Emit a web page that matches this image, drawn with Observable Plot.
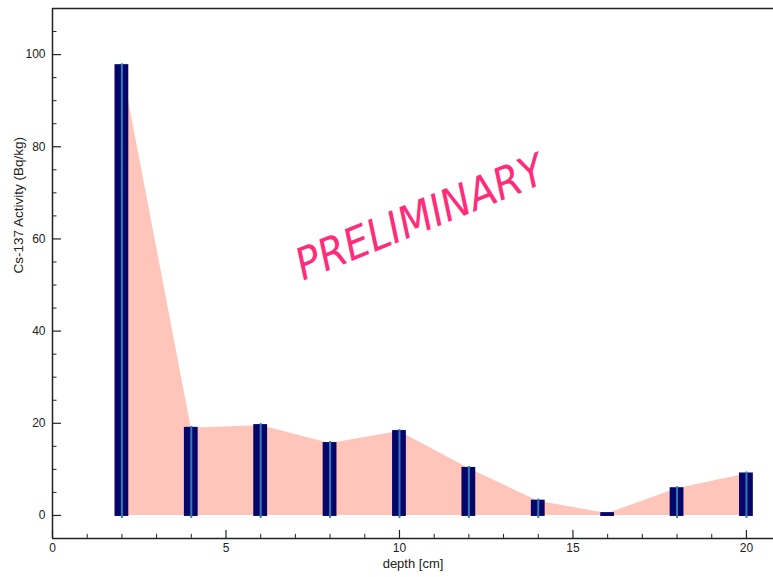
<!DOCTYPE html>
<html>
<head>
<meta charset="utf-8">
<script src="https://cdn.jsdelivr.net/npm/d3@7"></script>
<script src="https://cdn.jsdelivr.net/npm/@observablehq/plot@0.6"></script>
<style>
  html, body { margin: 0; padding: 0; background: #fff; }
  svg { display: block; }
</style>
</head>
<body>
<div id="chart"></div>
<script>
const depth = [2, 4, 6, 8, 10, 12, 14, 16, 18, 20];
const activity = [97.6, 18.9, 19.5, 15.6, 18.2, 10.2, 3.1, 0.4, 5.8, 9.0];
const xMajor = [0, 5, 10, 15, 20];
const xMinor = [1, 2, 3, 4, 6, 7, 8, 9, 11, 12, 13, 14, 16, 17, 18, 19];
const yMajor = [0, 20, 40, 60, 80, 100];
const yMinor = [5, 10, 15, 25, 30, 35, 45, 50, 55, 65, 70, 75, 85, 90, 95, 105];
const watermark = ["PRELIMINARY"];
const xLabel = ["depth [cm]"];
const yLabel = ["Cs-137 Activity (Bq/kg)"];

const data = depth.map((d, i) => ({depth: d, value: activity[i]}));
const X0 = 0, X1 = 20.78, Y0 = -5, Y1 = 110;
const halfW = 0.17;

const chart = Plot.plot({
  width: 773,
  height: 577,
  marginLeft: 52,
  marginRight: 0,
  marginTop: 8,
  marginBottom: 39,
  style: {background: "#fff", fontFamily: "'Liberation Sans', Arial, sans-serif", fontSize: "12px", color: "#222"},
  x: {domain: [X0, X1]},
  y: {domain: [Y0, Y1]},
  marks: [
    Plot.areaY(data, {x: "depth", y: "value", fill: "#ffc4ba"}),
    Plot.rectY(data, {
      x1: d => d.depth - halfW, x2: d => d.depth + halfW, y1: 0, y2: "value",
      fill: "#06066a", stroke: "#06066a", strokeWidth: 2
    }),
    Plot.ruleX(data.filter(d => d.value > 1.5), {
      x: "depth", y1: 0, y2: "value", stroke: "#2f7db5", strokeWidth: 2,
      insetTop: 3, insetBottom: 2
    }),
    Plot.text(watermark, {
      x: 10.6, y: 64.5, text: d => d, rotate: -22, fill: "#ff2c7a",
      fontSize: 44, fontStyle: "italic", letterSpacing: 3,
      fontFamily: "'Liberation Sans Narrow', 'DejaVu Sans Condensed', sans-serif"
    }),
    // frame lines
    Plot.ruleY([Y1], {stroke: "#222", strokeWidth: 1.5}),
    Plot.ruleY([Y0], {stroke: "#222", strokeWidth: 1.5}),
    Plot.ruleX([X0], {stroke: "#222", strokeWidth: 1.5}),
    // inward ticks
    Plot.ruleY(yMajor, {x1: X0, x2: X0 + 0.26, stroke: "#222", strokeWidth: 1.2}),
    Plot.ruleY(yMinor, {x1: X0, x2: X0 + 0.13, stroke: "#222", strokeWidth: 1}),
    Plot.ruleX(xMajor, {y1: Y0, y2: Y0 + 1.75, stroke: "#222", strokeWidth: 1.2}),
    Plot.ruleX(xMinor, {y1: Y0, y2: Y0 + 0.9, stroke: "#222", strokeWidth: 1}),
    Plot.axisY(yMajor, {tickSize: 0, tickPadding: 7, label: null, fontSize: 12}),
    Plot.axisX(xMajor, {tickSize: 0, tickPadding: 5, label: null, fontSize: 12}),
    Plot.text(yLabel, {frameAnchor: "left", dx: -34, rotate: -90, text: d => d, fontSize: 13.5, fill: "#222"}),
    Plot.text(xLabel, {frameAnchor: "bottom", dy: 29, text: d => d, fontSize: 13, fill: "#222"})
  ]
});
document.getElementById("chart").appendChild(chart);
</script>
</body>
</html>
